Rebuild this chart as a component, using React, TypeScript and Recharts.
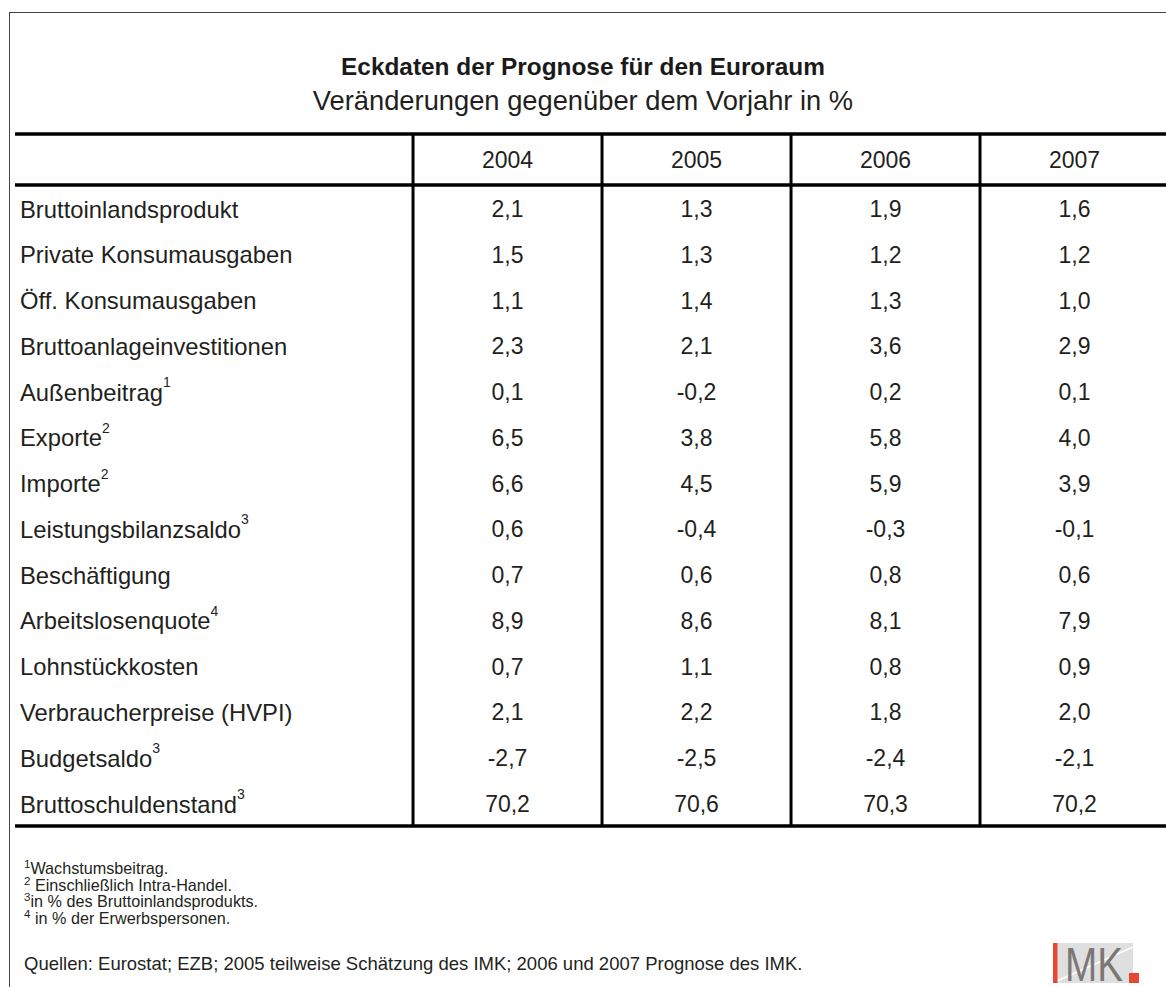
import React from 'react'
import { ScatterChart, Scatter, XAxis, YAxis, ReferenceLine } from 'recharts'

const YEARS = ['2004', '2005', '2006', '2007']

const ROWS = [
  'Bruttoinlandsprodukt',
  'Private Konsumausgaben',
  'Öff. Konsumausgaben',
  'Bruttoanlageinvestitionen',
  'Außenbeitrag',
  'Exporte',
  'Importe',
  'Leistungsbilanzsaldo',
  'Beschäftigung',
  'Arbeitslosenquote',
  'Lohnstückkosten',
  'Verbraucherpreise (HVPI)',
  'Budgetsaldo',
  'Bruttoschuldenstand',
]
const ROW_NOTES = ['', '', '', '', '1', '2', '2', '3', '', '4', '', '', '3', '3']

const V2004 = [2.1, 1.5, 1.1, 2.3, 0.1, 6.5, 6.6, 0.6, 0.7, 8.9, 0.7, 2.1, -2.7, 70.2]
const V2005 = [1.3, 1.3, 1.4, 2.1, -0.2, 3.8, 4.5, -0.4, 0.6, 8.6, 1.1, 2.2, -2.5, 70.6]
const V2006 = [1.9, 1.2, 1.3, 3.6, 0.2, 5.8, 5.9, -0.3, 0.8, 8.1, 0.8, 1.8, -2.4, 70.3]
const V2007 = [1.6, 1.2, 1.0, 2.9, 0.1, 4.0, 3.9, -0.1, 0.6, 7.9, 0.9, 2.0, -2.1, 70.2]
const COLUMNS = [V2004, V2005, V2006, V2007]

const FOOTNOTES = [
  ['1', 'Wachstumsbeitrag.'],
  ['2', ' Einschließlich Intra-Handel.'],
  ['3', 'in % des Bruttoinlandsprodukts.'],
  ['4', ' in % der Erwerbspersonen.'],
]
const SOURCE = 'Quellen: Eurostat; EZB; 2005 teilweise Schätzung des IMK; 2006 und 2007 Prognose des IMK.'

const FONT = '"Liberation Sans", Arial, sans-serif'
const INK = '#231f20'

// table rules, in axis units
const TOP_RULE = -1.639
const HEAD_RULE = -0.524
const BOTTOM_RULE = 13.48

const fmt = (v: number) => v.toFixed(1).replace('.', ',')

const columnData = COLUMNS.map((values, c) =>
  values.map((value, r) => ({ col: c + 1, row: r, value }))
)

const CellText = (props: any) => (
  <text
    x={props.cx}
    y={props.cy}
    textAnchor="middle"
    dominantBaseline="central"
    fontSize={23}
    fontFamily={FONT}
    fill={INK}
  >
    {fmt(props.payload.value)}
  </text>
)

const YearTick = (props: any) => (
  <text
    x={props.x}
    y={160}
    textAnchor="middle"
    dominantBaseline="central"
    fontSize={23}
    fontFamily={FONT}
    fill={INK}
  >
    {YEARS[props.payload.value - 1]}
  </text>
)

const RowTick = (props: any) => {
  const r = props.payload.value
  return (
    <text x={20} y={props.y} dominantBaseline="central" fontSize={23.8} fontFamily={FONT} fill={INK}>
      {ROWS[r]}
      {ROW_NOTES[r] && (
        <tspan fontSize={14} dy={-10}>
          {ROW_NOTES[r]}
        </tspan>
      )}
    </text>
  )
}

export default function App() {
  return (
    <div style={{ position: 'absolute', left: 0, top: 0, width: 1166, height: 987, overflow: 'hidden', background: '#fff' }}>
      {/* outer frame */}
      <div
        style={{
          position: 'absolute',
          left: 9,
          top: 12,
          width: 1200,
          height: 1000,
          borderLeft: '1.5px solid #444',
          borderTop: '1.5px solid #444',
        }}
      />
      <div style={{ position: 'absolute', left: 0, top: 0 }}>
        <ScatterChart width={1166} height={987} margin={{ top: 0, right: 0, bottom: 161, left: 0 }}>
          <XAxis
            type="number"
            dataKey="col"
            orientation="top"
            height={134}
            domain={[-1.606, 4.484]}
            allowDataOverflow
            ticks={[1, 2, 3, 4]}
            tick={<YearTick />}
            axisLine={false}
            tickLine={false}
          />
          <YAxis
            type="number"
            dataKey="row"
            width={15}
            reversed
            domain={[TOP_RULE, BOTTOM_RULE]}
            allowDataOverflow
            ticks={ROWS.map((_, i) => i)}
            tick={<RowTick />}
            axisLine={false}
            tickLine={false}
          />
          {[0.5, 1.5, 2.5, 3.5].map((x) => (
            <ReferenceLine key={x} x={x} stroke="#000" strokeWidth={3} />
          ))}
          {[TOP_RULE, HEAD_RULE, BOTTOM_RULE].map((y) => (
            <ReferenceLine key={y} y={y} stroke="#000" strokeWidth={3.5} />
          ))}
          {columnData.map((data, c) => (
            <Scatter key={YEARS[c]} data={data} shape={<CellText />} isAnimationActive={false} />
          ))}
        </ScatterChart>
      </div>
      <svg width={1166} height={987} style={{ position: 'absolute', left: 0, top: 0, pointerEvents: 'none' }}>
        <text x={583} y={66} textAnchor="middle" dominantBaseline="central" fontSize={24.4} fontWeight="bold" fontFamily={FONT} fill="#1a1a1a">
          Eckdaten der Prognose für den Euroraum
        </text>
        <text x={583} y={100} textAnchor="middle" dominantBaseline="central" fontSize={27.3} fontFamily={FONT} fill={INK}>
          Veränderungen gegenüber dem Vorjahr in %
        </text>
        {FOOTNOTES.map(([n, t], i) => (
          <text key={n} x={24} y={874 + i * 16.5} fontSize={16.2} fontFamily={FONT} fill={INK}>
            <tspan fontSize={11.5} dy={-6}>{n}</tspan>
            <tspan dy={6}>{t}</tspan>
          </text>
        ))}
        <text x={24} y={963} dominantBaseline="central" fontSize={18.5} fontFamily={FONT} fill={INK}>
          {SOURCE}
        </text>
        {/* IMK logo */}
        <g transform="translate(1053,943)">
          <rect x={0} y={0} width={80} height={40} fill="#e0dfdf" />
          <line x1={4} y1={38} x2={80} y2={4} stroke="#fff" strokeWidth={1.5} />
          <rect x={0} y={0} width={4.5} height={40} fill="#e8472f" />
          <text x={12} y={38} fontSize={48} fontFamily={FONT} fill="#7b7776" textLength={58} lengthAdjust="spacingAndGlyphs">
            MK
          </text>
          <rect x={76} y={30} width={10} height={10} fill="#e8472f" />
        </g>
      </svg>
    </div>
  )
}
